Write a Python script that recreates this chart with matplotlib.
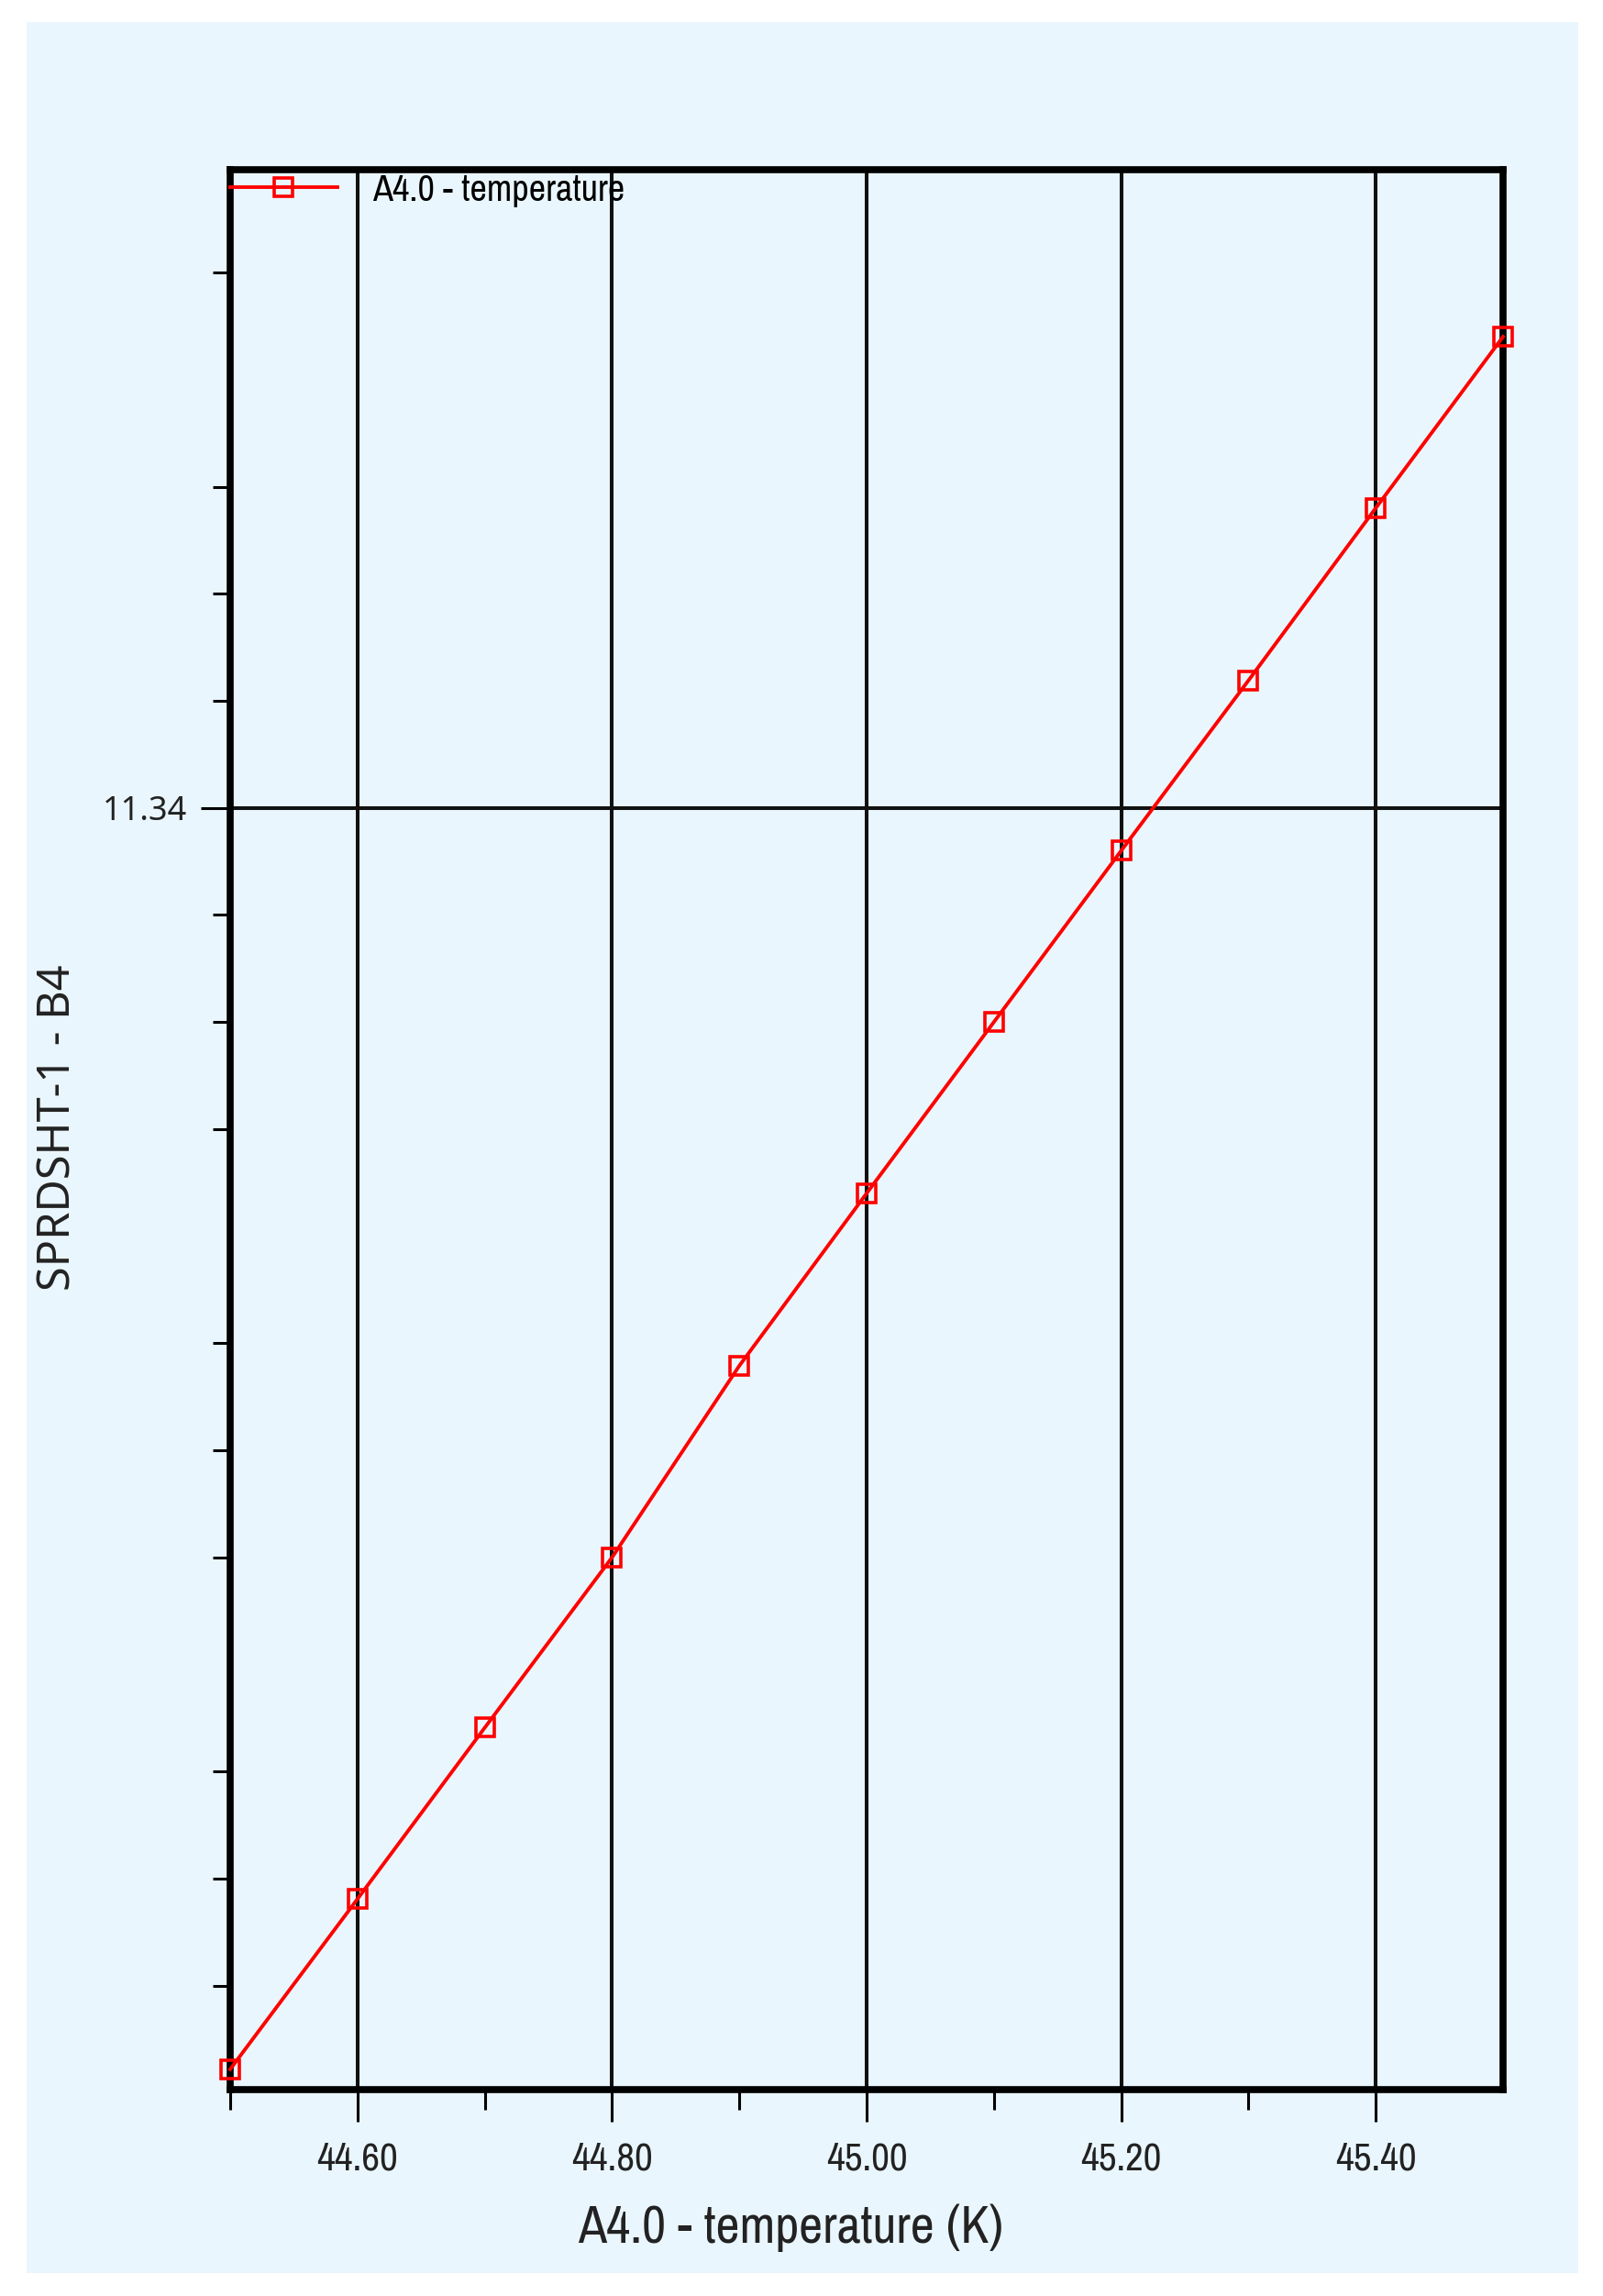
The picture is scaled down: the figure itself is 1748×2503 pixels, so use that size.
import numpy as np
import matplotlib
matplotlib.use("Agg")
import matplotlib.pyplot as plt
from matplotlib.patches import Rectangle
from matplotlib import font_manager

# Data
temperature = [44.5, 44.6, 44.7, 44.8, 44.9, 45.0, 45.1, 45.2, 45.3, 45.4, 45.5]
b4_value = [11.2222, 11.2381, 11.2541, 11.2700, 11.2879, 11.3040,
            11.3200, 11.3360, 11.3519, 11.3680, 11.3840]

x_major = [44.6, 44.8, 45.0, 45.2, 45.4]
x_minor = [44.5, 44.7, 44.9, 45.1, 45.3]
y_major = [11.34]
y_minor = [11.23, 11.24, 11.25, 11.27, 11.28, 11.29, 11.31, 11.32, 11.33,
           11.35, 11.36, 11.37, 11.39]

series_label = "A4.0 - temperature"
x_label = "A4.0 - temperature (K)"
y_label = "SPRDSHT-1 - B4"

PANEL = "#eaf6fd"
WIDE = ["Noto Sans", "DejaVu Sans"]

# pick a narrow face if one is installed
names = sorted({f.name for f in font_manager.fontManager.ttflist})
narrow = [n for n in names if "Narrow" in n or "Condensed" in n]
NARROW = narrow[:1] + ["DejaVu Sans"]

W, H = 1748, 2503
fig = plt.figure(figsize=(W / 100, H / 100), dpi=100)
fig.patch.set_facecolor("white")
fig.patches.append(Rectangle((29 / W, 1 - 2478 / H), (1721 - 29) / W, (2478 - 24) / H,
                             transform=fig.transFigure, facecolor=PANEL,
                             edgecolor="none", zorder=-10))

ax = fig.add_axes([251 / W, 1 - 2278 / H, (1639 - 251) / W, (2278 - 185) / H])
ax.set_zorder(2)
ax.set_facecolor(PANEL)

ax.plot(temperature, b4_value, color="#ff0000", lw=2.8, marker="s", ms=15,
        mfc="none", mec="#ff0000", mew=2.6, clip_on=False, zorder=5,
        label=series_label)

ax.set_xlim(44.5, 45.5)
ax.set_ylim(11.2203, 11.3996)

ax.set_xticks(x_major)
ax.set_xticks(x_minor, minor=True)
ax.set_xticklabels([f"{v:.2f}" for v in x_major], family=NARROW, fontsize=31,
                   stretch="condensed", color="#222222")
ax.set_yticks(y_major)
ax.set_yticks(y_minor, minor=True)
ax.set_yticklabels([f"{v:.2f}" for v in y_major], family=WIDE, fontsize=26,
                   color="#222222")

ax.tick_params(axis="x", which="major", length=25, width=2.2, pad=16, color="black")
ax.tick_params(axis="x", which="minor", length=16, width=2.2, color="black")
ax.tick_params(axis="y", which="major", length=23, width=2.2, pad=11, color="black")
ax.tick_params(axis="y", which="minor", length=14, width=2.2, color="black")

ax.grid(True, which="major", color="#111111", lw=2.9, zorder=1)
ax.set_axisbelow(True)

for sp in ax.spines.values():
    sp.set_linewidth(5.5)
    sp.set_color("black")
    sp.set_zorder(4)

ax.legend(loc="center left", bbox_to_anchor=(0, 1 - 22 / 2093), frameon=False,
          borderpad=0, borderaxespad=0, handlelength=2.9, handletextpad=0.95,
          prop={"family": NARROW, "size": 29, "stretch": "condensed"})

fig.text(862 / W, 1 - 2429 / H, x_label, ha="center", va="center",
         family=NARROW, fontsize=41, stretch="condensed", color="#222222")
fig.text(64 / W, 1 - 1229 / H, y_label, ha="center", va="center", rotation=90,
         family=WIDE, fontsize=35, color="#222222")

fig.savefig("out.png", dpi=100)
